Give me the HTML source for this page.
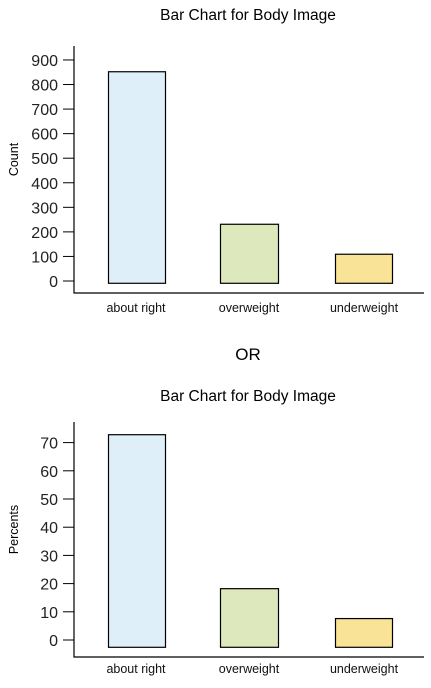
<!DOCTYPE html>
<html><head><meta charset="utf-8"><style>
body{margin:0;background:#fff;width:431px;height:683px;overflow:hidden}
svg{font-family:"Liberation Sans",sans-serif}
</style></head><body>
<svg id="s" width="431" height="683">
<text x="248" y="20" text-anchor="middle" font-size="15.5">Bar Chart for Body Image</text>
<text x="248" y="360" text-anchor="middle" font-size="17">OR</text>
<text x="248" y="401" text-anchor="middle" font-size="15.5">Bar Chart for Body Image</text>
</svg>
<script>
const categories=["about right","overweight","underweight"];
const counts=[852,231,109];
const percents=[72.8,18.2,7.6];
const countTicks=[0,100,200,300,400,500,600,700,800,900];
const percentTicks=[0,10,20,30,40,50,60,70];
const colors=["#dfeffa","#dde9bd","#f9e396"];
const NS="http://www.w3.org/2000/svg";
const svg=document.getElementById('s');
function mk(t,a,p){const e=document.createElementNS(NS,t);for(const k in a)e.setAttribute(k,a[k]);(p||svg).appendChild(e);return e;}
function chart(pref,vals,ticks,y0,pxPer,axTop,axBot,barBot,labY,title){
  const y=v=>y0-v*pxPer;
  const g=mk('g',{});
  
  
  const ax=mk('path',{d:`M74 ${axTop}V${axBot}H424`,stroke:'#000','stroke-width':1.2,fill:'none'},g);
  
  
  ticks.forEach(t=>{
    const l=mk('line',{x1:63,x2:74,y1:y(t),y2:y(t),stroke:'#000','stroke-width':1},g);
    
    
    const tx=mk('text',{x:58,y:y(t)+6,'text-anchor':'end','font-size':16,fill:'#222'},g);
    tx.textContent=t;
    
    
  });
  const bx=[108,220,335],bw=[57,58,57],cx=[136,249,364];
  vals.forEach((v,i)=>{
    const r=mk('rect',{x:bx[i]+0.5,y:y(v),width:bw[i],height:barBot-y(v),fill:colors[i],stroke:'#000','stroke-width':1.2},g);
    
    
    const tx=mk('text',{x:cx[i],y:labY,'text-anchor':'middle','font-size':12.5,fill:'#111'},g);
    tx.textContent=categories[i];
    
    
  });
  const yt=mk('text',{x:0,y:0,'text-anchor':'middle','font-size':12.5,transform:`translate(18 ${(axTop+axBot)/2-10}) rotate(-90)`},g);
  yt.textContent=title;
  
  
}
chart('count',counts,countTicks,281,0.2456,46,293,283.3,312,'Count');
chart('percent',percents,percentTicks,640,2.82,422,657,647.3,673,'Percents');
</script>
</body></html>
